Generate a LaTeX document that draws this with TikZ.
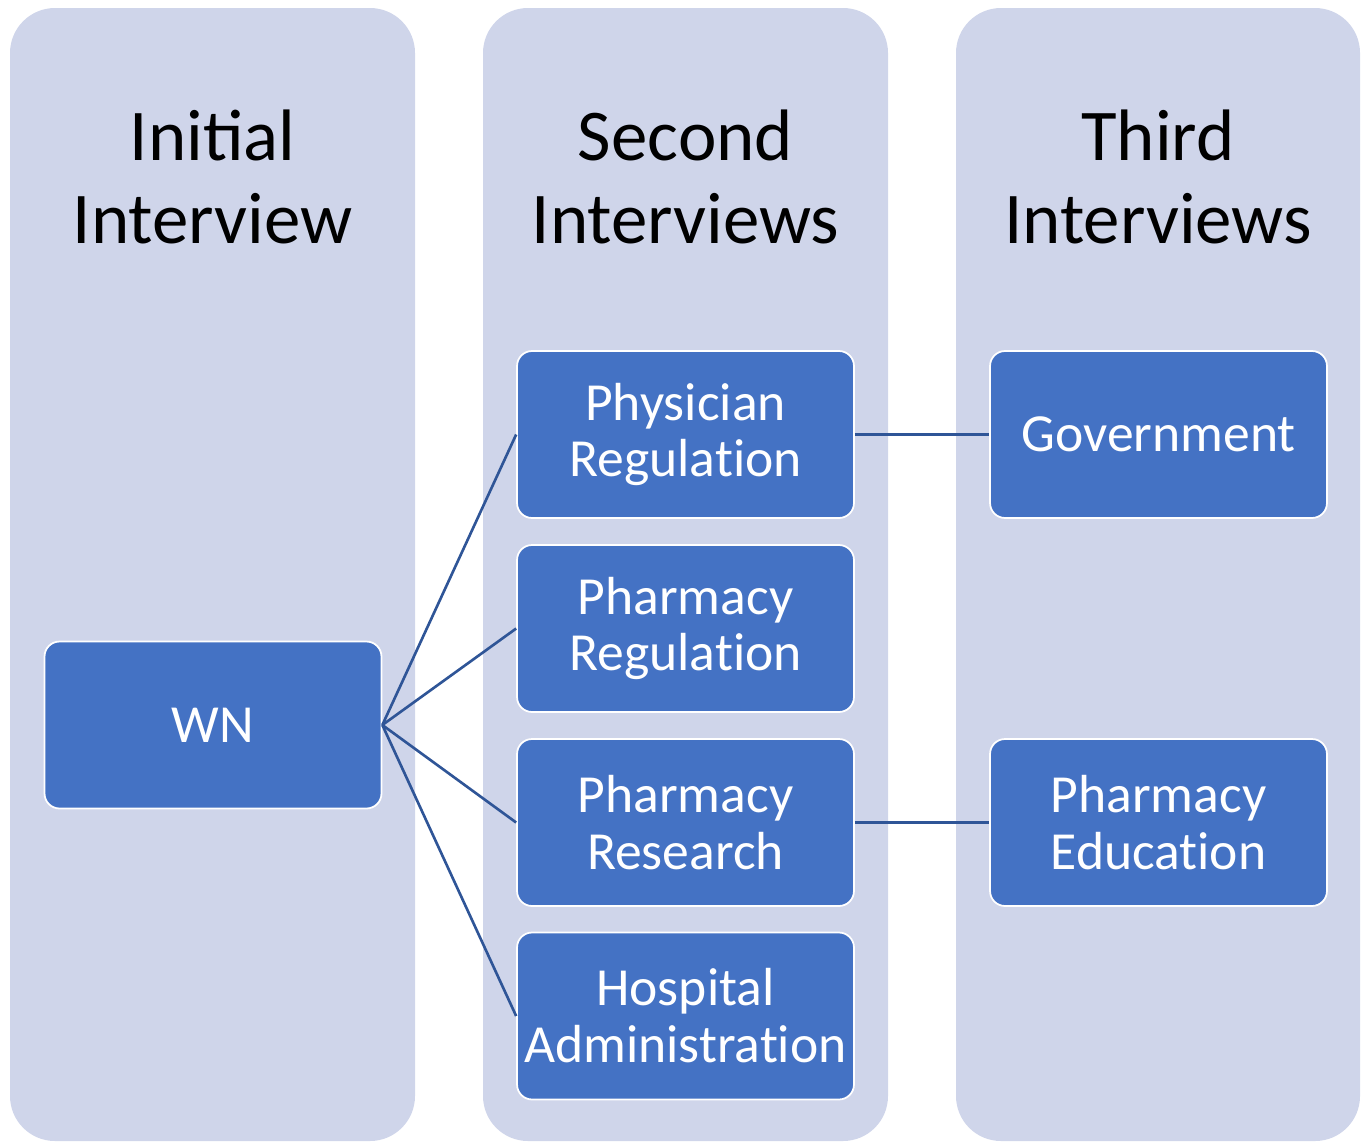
\documentclass[tikz,border=0pt]{standalone}
\usepackage{fontspec}
\setmainfont{Carlito}
\usepackage{tikz}

% keeps Carlito from joining t and i into one glyph
\newcommand{\tisplit}{\kern0pt\relax}

\definecolor{lane}{RGB}{207,213,234}
\definecolor{boxblue}{RGB}{68,114,196}
\definecolor{linkblue}{RGB}{47,85,151}

\begin{document}
\begin{tikzpicture}[x=0.02cm, y=-0.02cm,
    lane/.style={fill=lane, rounded corners=0.9cm},
    title/.style={align=center, font=\fontsize{41.5}{47}\selectfont, text=black},
    stage/.style={draw=white, line width=1pt, fill=boxblue, rounded corners=0.3cm,
        minimum width=6.74cm, minimum height=3.34cm, inner sep=0pt,
        align=center, text=white, font=\fontsize{30.5}{32.4}\selectfont},
    link/.style={draw=linkblue, line width=1.5pt}]

        \useasboundingbox (0,0) rectangle (1364,1143);

        % Columns --  --  --  --  --  --  --  --  --  --  --  --  --  --
        \fill[lane] (10,8) rectangle (415,1141);
        \fill[lane] (483,8) rectangle (888,1141);
        \fill[lane] (956,8) rectangle (1360,1141);

        % Column headings
        \node[title] (initial) at (212.5,177) {Initial\\Interview};
        \node[title] (second) at (685.5,177) {Second\\Interviews};
        \node[title] (third) at (1158,177) {Third\\Interviews};
        %  --  --  --  --  --  --  --  --  --  --  --  --  --  --  --  --

        % Interviewees --  --  --  --  --  --  --  --  --  --  --  --  --
        \node[stage] (wn) at (213,725) {WN};

        \node[stage] (physreg) at (685.5,434.5) {Physician\\Regulat\tisplit ion};
        \node[stage] (pharmreg) at (685.5,628.5) {Pharmacy\\Regulat\tisplit ion};
        \node[stage] (pharmres) at (685.5,822.5) {Pharmacy\\Research};
        \node[stage] (hospadm) at (685.5,1016) {Hospital\\Administrat\tisplit ion};

        \node[stage] (govt) at (1158.5,434.5) {Government};
        \node[stage] (pharmedu) at (1158.5,822.5) {Pharmacy\\Educat\tisplit ion};
        %  --  --  --  --  --  --  --  --  --  --  --  --  --  --  --  --

        % Referrals --  --  --  --  --  --  --  --  --  --  --  --  --  --
        \foreach \n in {physreg, pharmreg, pharmres, hospadm}
            \draw[link] (wn.east) -- (\n.west);

        \draw[link] (physreg.east) -- (govt.west);
        \draw[link] (pharmres.east) -- (pharmedu.west);
        %  --  --  --  --  --  --  --  --  --  --  --  --  --  --  --  --
\end{tikzpicture}
\end{document}
